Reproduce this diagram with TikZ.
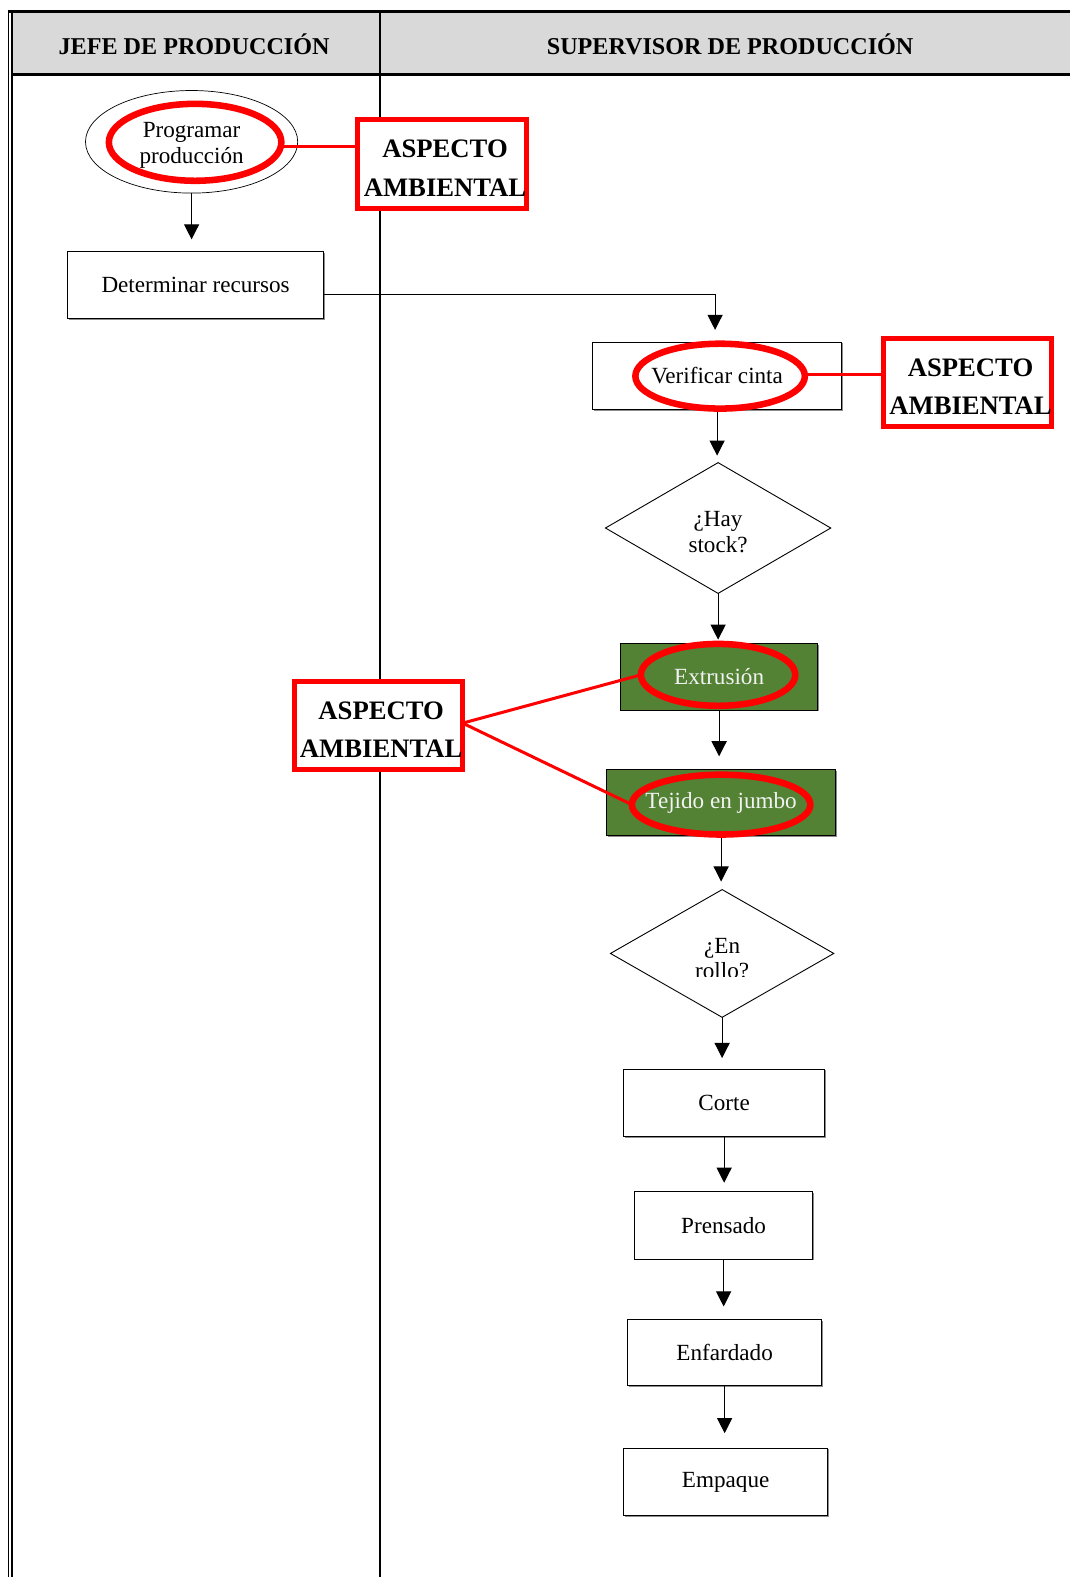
\documentclass[tikz,border=0pt]{standalone}
\usepackage{fontspec}
\setmainfont{Liberation Serif}
\usetikzlibrary{shapes.geometric,arrows.meta,shadows}
\definecolor{hdrgray}{HTML}{D9D9D9}
\definecolor{leaf}{HTML}{548235}
\definecolor{alert}{HTML}{FF0000}
\definecolor{paletext}{HTML}{F2F2F2}

\begin{document}
\begin{tikzpicture}[x=1pt,y=-1pt,
  every node/.style={inner sep=0pt,outer sep=0pt},
  stepbox/.style={rectangle,draw=black,line width=0.9pt,fill=white,align=center,
    font=\fontsize{23}{26}\selectfont,
    drop shadow={shadow xshift=1.2pt,shadow yshift=-1.2pt,fill=black!45,opacity=1}},
  greenbox/.style={stepbox,fill=leaf,text=paletext},
  decision/.style={diamond,draw=black,line width=0.9pt,fill=white},
  label23/.style={align=center,font=\fontsize{23}{25.5}\selectfont},
  ring/.style={ellipse,draw=alert,line width=6.5pt},
  aspect/.style={rectangle,draw=alert,line width=5pt,fill=white},
  aspecttext/.style={align=center,font=\bfseries\fontsize{26.5}{38.5}\selectfont},
  tie/.style={draw=alert,line width=3pt},
  flow/.style={draw=black,line width=1pt,-{Triangle[width=15pt,length=15pt]}},
  header/.style={font=\bfseries\fontsize{24}{28}\selectfont}
]
\useasboundingbox (0,0) rectangle (1064,1568);

% table frame and header row
\fill[hdrgray] (12,12) rectangle (1064,74);
\draw[line width=3pt] (7.5,11.5) -- (1064,11.5);
\draw[line width=3pt] (12,74.5) -- (1064,74.5);
\draw[line width=1.3pt] (8.2,10) -- (8.2,1568);
\draw[line width=1.3pt] (11.8,11) -- (11.8,1568);
\draw[line width=2.2pt] (377.5,11) -- (377.5,1568);
\node[header] (h1) at (193,44) {JEFE DE PRODUCCIÓN};
\node[header] (h2) at (726,44) {SUPERVISOR DE PRODUCCIÓN};

% process steps
\node[ellipse,draw=black,line width=0.7pt,minimum width=211pt,minimum height=102pt] (prog) at (190.5,141) {};
\node[label23] (progt) at ([yshift=-3.5pt]prog.center) {Programar\\producción};
\node[stepbox,minimum width=255pt,minimum height=67pt] (det) at (194.5,283.5) {Determinar recursos};
\node[stepbox,minimum width=248pt,minimum height=67pt] (ver) at (713,373.5) {Verificar cinta};
\node[decision,minimum width=224pt,minimum height=130pt] (stock) at (714,525) {};
\node[label23] (stockt) at ([yshift=-4pt]stock.center) {¿Hay\\stock?};
\node[greenbox,minimum width=196pt,minimum height=66pt] (ext) at (715,673) {Extrusión};
\node[greenbox,minimum width=228pt,minimum height=66pt] (tej) at (717,798) {Tejido en jumbo};
\node[decision,minimum width=222pt,minimum height=127pt] (rollo) at (718,948) {};
\begin{scope}
  \clip (600,900) rectangle (840,970.5);
  \node[label23] (rollot) at (718,953) {¿En\\rollo?};
\end{scope}
\node[stepbox,minimum width=200pt,minimum height=67pt] (corte) at (720,1096.5) {Corte};
\node[stepbox,minimum width=177pt,minimum height=67pt] (prens) at (719.5,1218.5) {Prensado};
\node[stepbox,minimum width=193pt,minimum height=66pt] (enf) at (720.5,1345) {Enfardado};
\node[stepbox,minimum width=203pt,minimum height=67pt] (emp) at (721.5,1473.5) {Empaque};

% flow connectors
\draw[flow,shorten >=12pt] (prog.south) -- (prog.south |- det.north);
\draw[flow,shorten >=12pt] ([yshift=-9.5pt]det.east) -| ([xshift=-2pt]ver.north);
\draw[flow,shorten >=7pt] (ver.south) -- (ver.south |- stock.north);
\draw[flow,shorten >=4pt] (stock.south) -- (stock.south |- ext.north);
\draw[flow,shorten >=13pt] (ext.south) -- (ext.south |- tej.north);
\draw[flow,shorten >=8pt] (tej.south) -- (tej.south |- rollo.north);
\draw[flow,shorten >=11pt] (rollo.south) -- (rollo.south |- corte.north);
\draw[flow,shorten >=9pt] (corte.south) -- (corte.south |- prens.north);
\draw[flow,shorten >=13pt] (prens.south) -- (prens.south |- enf.north);
\draw[flow,shorten >=15pt] (enf.south) -- (enf.south |- emp.north);

% environmental aspect markers
\node[ring,minimum width=171.5pt,minimum height=76.5pt] (progR) at (194,141.5) {};
\node[ring,minimum width=168.5pt,minimum height=64.5pt] (verR) at (716,374) {};
\node[ring,minimum width=153.5pt,minimum height=61.5pt] (extR) at (714,671) {};
\node[ring,minimum width=177.5pt,minimum height=59.5pt] (tejR) at (717,800) {};

\coordinate (asp1w) at (355.5,146);
\coordinate (asp2w) at (878.5,372);
\coordinate (asp3e) at (460,719);
\draw[tie] ([yshift=-4.5pt]progR.east) -- (asp1w);
\draw[tie] ([yshift=2pt]verR.east) -- (asp2w);
\draw[tie] (asp3e) -- (extR.west);
\draw[tie] (asp3e) -- (tejR.west);

\node[aspect,minimum width=168pt,minimum height=89pt] (asp1) at (439.5,163) {};
\node[aspect,minimum width=167pt,minimum height=88pt] (asp2) at (962,380.5) {};
\node[aspect,minimum width=167pt,minimum height=88pt] (asp3) at (376,721.5) {};
\node[aspecttext] (asp1t) at ([shift={(3,4)}]asp1.center) {ASPECTO\\AMBIENTAL};
\node[aspecttext] (asp2t) at ([shift={(3,4)}]asp2.center) {ASPECTO\\AMBIENTAL};
\node[aspecttext] (asp3t) at ([shift={(3,4)}]asp3.center) {ASPECTO\\AMBIENTAL};
\end{tikzpicture}
\end{document}
